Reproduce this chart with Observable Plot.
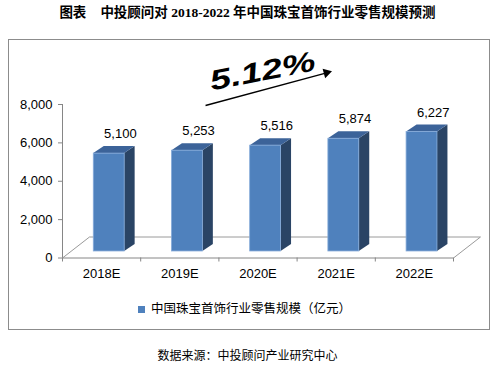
<!DOCTYPE html>
<html><head><meta charset="utf-8">
<script src="https://cdn.jsdelivr.net/npm/d3@7"></script>
<script src="https://cdn.jsdelivr.net/npm/@observablehq/plot@0.6"></script>
<style>
body{margin:0;background:#fff;width:495px;height:370px;position:relative;overflow:hidden;font-family:"Liberation Sans",Arial,sans-serif}
#title{position:absolute;left:0;top:5px;width:495px;text-align:center;font:bold 13.5px "Liberation Serif","Noto Sans CJK SC",serif;line-height:16px;color:#000}
#box{position:absolute;left:8px;top:39px;width:482px;height:291px;border:1px solid #8c8c8c;box-sizing:border-box}
#chart{position:absolute;left:0;top:40px}
#legend{position:absolute;top:299px;left:138px;height:18px;font:12.5px "Noto Sans CJK SC",sans-serif;line-height:18px;white-space:nowrap;color:#000}
#legend i{display:inline-block;width:7px;height:7px;background:#4F81BD;margin-right:6px;vertical-align:0px}
#source{position:absolute;top:346px;left:0;width:495px;text-align:center;font:12px "Noto Sans CJK SC",sans-serif;line-height:18px;color:#000}
</style></head>
<body>
<div id="title">图表<span style="margin-left:14px"></span>中投顾问对 2018-2022 年中国珠宝首饰行业零售规模预测</div>
<div id="box"></div>
<div id="chart"></div>
<div id="legend"><i></i>中国珠宝首饰行业零售规模（亿元）</div>
<div id="source">数据来源：中投顾问产业研究中心</div>
<script>
const categories = ["2018E", "2019E", "2020E", "2021E", "2022E"];
const values = [5100, 5253, 5516, 5874, 6227];
const yTicks = [0, 2000, 4000, 6000, 8000];
const growthLabel = ["5.12%"];
// annotation placement in data units
const growthAt = [2.558, 9720];
const arrowFrom = [1.829, 7948];
const arrowTo = [3.377, 9652];

// 3D geometry (in scale units)
const base = 340, fx0 = 0.40, fx1 = 0.795, bdx = 0.134, bdy = 365;
const fdx = 0.345, fdy = 1094;
const n = categories.length;

const bars = values.map((v, i) => ({i, v, x1: i + fx0, x2: i + fx1, y1: base, y2: base + v}));
const sideFaces = bars.flatMap(b => [
  {z: b.i, x: b.x2, y1: b.y1, y2: b.y2},
  {z: b.i, x: b.x2 + bdx, y1: b.y1 + bdy, y2: b.y2 + bdy}
]);
const topFaces = bars.flatMap(b => [
  {z: b.i, y: b.y2, x1: b.x1, x2: b.x2},
  {z: b.i, y: b.y2 + bdy, x1: b.x1 + bdx, x2: b.x2 + bdx}
]);
const floorPts = [{x: 0, y: 0}, {x: fdx, y: fdy}, {x: n + fdx, y: fdy}, {x: n, y: 0}];
const fmt = d3.format(",");

const chart = Plot.plot({
  width: 495, height: 290,
  marginLeft: 62, marginRight: 42, marginTop: 64, marginBottom: 72.5,
  x: {domain: [0, n], axis: null},
  y: {domain: [0, 8000], axis: null},
  style: {fontFamily: "'Liberation Sans', Arial, sans-serif", fontSize: "13px", background: "transparent", overflow: "visible", color: "#000"},
  marks: [
    Plot.line(floorPts, {x: "x", y: "y", stroke: "#9a9a9a", strokeWidth: 1}),
    Plot.ruleX([0], {y1: 0, y2: 8000, stroke: "#868686"}),
    Plot.ruleY([0], {x1: 0, x2: n, stroke: "#868686"}),
    Plot.axisY({ticks: yTicks, tickSize: 4, tickPadding: 6, stroke: "#868686", tickFormat: fmt}),
    Plot.axisX({ticks: d3.range(n + 1), tickSize: 4, stroke: "#868686", tickFormat: () => ""}),
    Plot.axisX({ticks: d3.range(n).map(i => i + 0.5), tickSize: 0, tickPadding: 11, tickFormat: d => categories[Math.floor(d)]}),
    Plot.areaY(sideFaces, {x: "x", y1: "y1", y2: "y2", z: "z", fill: "#2A4465"}),
    Plot.areaX(topFaces, {y: "y", x1: "x1", x2: "x2", z: "z", fill: "#3C6399"}),
    Plot.rect(bars, {x1: "x1", x2: "x2", y1: "y1", y2: "y2", fill: "#4F81BD", stroke: "#86ABDA", strokeWidth: 0.8}),
    Plot.text(bars, {x: d => d.i + 0.74, y: "y2", dy: -19.5, text: d => fmt(d.v), fontSize: 13}),
    Plot.link([0], {x1: () => arrowFrom[0], y1: () => arrowFrom[1], x2: () => arrowTo[0], y2: () => arrowTo[1], stroke: "#000", strokeWidth: 1.3}),
    Plot.dot([0], {x: () => arrowTo[0], y: () => arrowTo[1], symbol: "triangle", r: 3.6, fill: "#000", rotate: 74.7}),
    Plot.text(growthLabel, {x: () => growthAt[0], y: () => growthAt[1], text: d => d, fontSize: 28, fontWeight: "bold", fontStyle: "italic", fontFamily: "'Liberation Sans', Arial, sans-serif", rotate: -11})
  ]
});
d3.select(chart).selectAll("text")
  .filter(function () { return this.textContent === growthLabel[0]; })
  .attr("font-style", "italic")
  .style("font-style", "italic")
  .attr("transform", function () { return this.getAttribute("transform") + " scale(1.35,1)"; });
document.getElementById("chart").appendChild(chart);
</script>
</body></html>
